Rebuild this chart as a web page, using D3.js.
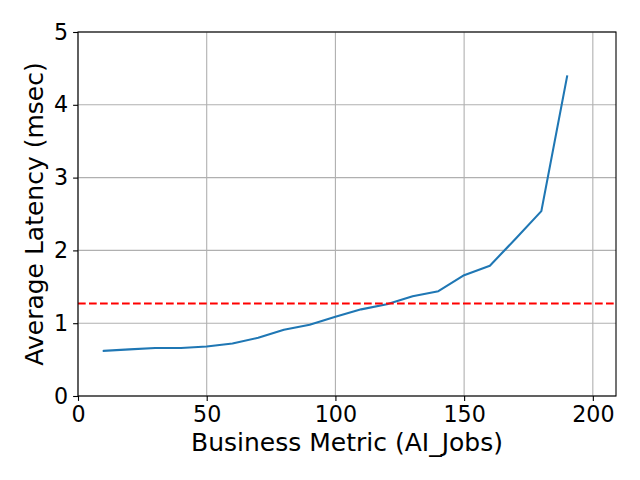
<!DOCTYPE html>
<html><head><meta charset="utf-8">
<script src="https://cdn.jsdelivr.net/npm/d3@7"></script>
<style>body{margin:0;background:#fff}svg{display:block}text{font-family:"DejaVu Sans",sans-serif;fill:#000}</style>
</head><body>
<script>
const jobs = [10,20,30,40,50,60,70,80,90,100,110,120,130,140,150,160,170,180,190];
const latency = [0.62,0.64,0.66,0.66,0.68,0.72,0.80,0.91,0.98,1.09,1.19,1.26,1.37,1.44,1.66,1.79,2.16,2.54,4.39];
const threshold = 1.27;
const xTicks = [0,50,100,150,200];
const yTicks = [0,1,2,3,4,5];
const xLabel = "Business Metric (AI_Jobs)";
const yLabel = "Average Latency (msec)";

const W=640,H=480, L=78, R=616, T=32, B=396;
const svg=d3.select("body").append("svg").attr("width",W).attr("height",H);
const x=d3.scaleLinear().domain([0,209]).range([L,R]);
const y=d3.scaleLinear().domain([0,5]).range([B,T]);

const g=svg.append("g");
g.selectAll(".gx").data(xTicks).join("line").attr("x1",d=>x(d)).attr("x2",d=>x(d)).attr("y1",T).attr("y2",B).attr("stroke","#b0b0b0").attr("stroke-width",1.1);
g.selectAll(".gy").data(yTicks).join("line").attr("x1",L).attr("x2",R).attr("y1",d=>y(d)).attr("y2",d=>y(d)).attr("stroke","#b0b0b0").attr("stroke-width",1.1);

svg.append("path").datum(jobs.map((j,i)=>[j,latency[i]]))
 .attr("d",d3.line().x(d=>x(d[0])).y(d=>y(d[1])))
 .attr("fill","none").attr("stroke","#1f77b4").attr("stroke-width",2.08).attr("stroke-linejoin","round").attr("stroke-linecap","square");

svg.append("line").attr("x1",L).attr("x2",R).attr("y1",y(threshold)).attr("y2",y(threshold))
 .attr("stroke","#ff0000").attr("stroke-width",2.08).attr("stroke-dasharray","7.7,3.3");

svg.append("rect").attr("x",L).attr("y",T).attr("width",R-L).attr("height",B-T).attr("fill","none").attr("stroke","#000").attr("stroke-width",1.1);

const xa=svg.append("g").attr("transform",`translate(0,${B})`).call(d3.axisBottom(x).tickValues(xTicks).tickSize(4.9).tickPadding(4.9).tickFormat(d3.format("d")));
const ya=svg.append("g").attr("transform",`translate(${L},0)`).call(d3.axisLeft(y).tickValues(yTicks).tickSize(4.9).tickPadding(4.9).tickFormat(d3.format("d")));
[xa,ya].forEach(a=>{a.select(".domain").remove();a.selectAll("line").attr("stroke","#000").attr("stroke-width",1.1);a.selectAll("text").attr("font-family","DejaVu Sans").attr("font-size",22.2).attr("fill","#000");});

svg.append("text").attr("x",(L+R)/2).attr("y",451).attr("text-anchor","middle").attr("font-size",25).text(xLabel);
svg.append("text").attr("transform",`translate(43,${(T+B)/2}) rotate(-90)`).attr("text-anchor","middle").attr("font-size",25).text(yLabel);
</script>
</body></html>
